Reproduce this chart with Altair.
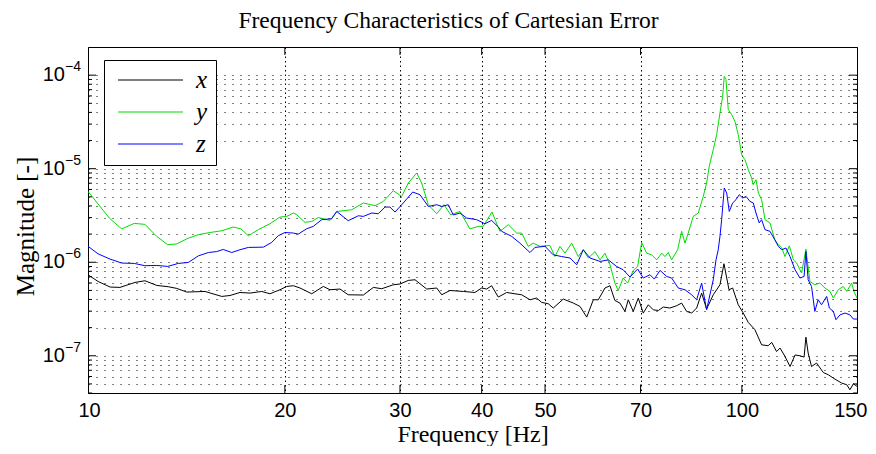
import altair as alt
import pandas as pd

# ---------------- data ----------------
series_names = ["x", "y", "z"]
series_colors = ["#000000", "#00dd00", "#0000ff"]

x_freq = [10.0, 10.36, 10.81, 11.19, 11.80, 12.22, 12.74, 13.27, 13.67, 14.16, 15.10, 16.02, 16.49, 17.08, 17.69,
          18.44, 18.98, 19.66, 20.13, 20.61, 21.10, 21.99, 22.90, 23.45, 24.29, 25.00, 26.37, 27.32, 28.13, 29.30,
          30.00, 30.89, 31.63, 32.96, 34.15, 34.75, 35.78, 37.50, 39.06, 40.00, 40.70, 41.43, 42.41, 43.68, 44.98,
          46.05, 47.42, 48.55, 49.41, 50.57, 51.47, 53.32, 55.24, 56.55, 57.91, 59.27, 60.32, 61.75, 62.85, 63.95,
          65.09, 66.25, 67.03, 68.22, 69.44, 70.66, 71.93, 73.21, 74.52, 75.84, 77.62, 79.48, 80.89, 82.33, 83.79,
          85.28, 86.79, 88.33, 90.42, 92.58, 93.89, 95.57, 96.81, 98.74, 100.5, 102.3, 104.7, 107.2, 109.7, 111.1,
          113.0, 114.4, 116.4, 118.5, 120.6, 122.7, 124.5, 125.3, 126.3, 127.8, 130.1, 133.2, 135.6, 138.8, 142.1,
          144.7, 146.3, 148.1, 150.0]
x_mag = [7.35e-7, 6.23e-7, 5.43e-7, 5.38e-7, 6.08e-7, 6.34e-7, 5.65e-7, 5.47e-7, 5.25e-7, 4.80e-7, 4.87e-7, 4.31e-7,
         4.41e-7, 4.75e-7, 4.68e-7, 4.87e-7, 4.60e-7, 5.08e-7, 5.51e-7, 5.61e-7, 5.30e-7, 4.60e-7, 5.51e-7, 5.08e-7,
         5.17e-7, 4.49e-7, 4.46e-7, 5.38e-7, 5.21e-7, 5.74e-7, 5.85e-7, 6.39e-7, 6.50e-7, 5.17e-7, 5.30e-7, 4.49e-7,
         4.99e-7, 4.87e-7, 4.75e-7, 5.30e-7, 5.17e-7, 5.61e-7, 4.24e-7, 4.75e-7, 4.60e-7, 4.49e-7, 3.97e-7, 4.14e-7,
         3.72e-7, 3.60e-7, 3.24e-7, 4.04e-7, 3.66e-7, 3.37e-7, 2.59e-7, 3.97e-7, 3.97e-7, 5.30e-7, 5.61e-7, 3.90e-7,
         3.66e-7, 2.98e-7, 3.97e-7, 2.98e-7, 4.14e-7, 2.86e-7, 3.51e-7, 3.10e-7, 3.05e-7, 3.32e-7, 3.24e-7, 3.43e-7,
         3.66e-7, 2.98e-7, 2.86e-7, 3.24e-7, 4.68e-7, 3.16e-7, 4.49e-7, 5.74e-7, 9.64e-7, 5.08e-7, 5.30e-7, 3.51e-7,
         2.86e-7, 2.27e-7, 1.90e-7, 1.31e-7, 1.28e-7, 1.39e-7, 1.11e-7, 1.21e-7, 9.83e-8, 7.68e-8, 1.02e-7, 1.00e-7,
         9.68e-8, 1.58e-7, 1.07e-7, 7.68e-8, 8.36e-8, 6.63e-8, 6.26e-8, 5.63e-8, 5.11e-8, 4.90e-8, 4.33e-8, 5.02e-8,
         4.70e-8]

y_freq = [10.0, 10.78, 11.26, 11.77, 12.22, 12.74, 13.24, 13.67, 14.24, 14.75, 15.37, 16.02, 16.68, 17.14, 17.59,
          18.22, 18.98, 19.66, 20.13, 20.61, 20.86, 21.47, 21.99, 22.50, 23.45, 24.01, 25.31, 26.37, 27.48, 28.29,
          29.30, 30.18, 30.89, 31.82, 32.38, 33.15, 34.15, 35.03, 35.87, 37.06, 38.38, 39.53, 40.22, 41.48, 42.66,
          43.93, 45.25, 46.05, 47.13, 47.97, 49.12, 50.87, 51.78, 52.70, 53.64, 54.92, 56.21, 57.21, 58.23, 59.62,
          60.68, 61.75, 62.85, 63.95, 64.70, 65.85, 66.89, 68.22, 69.28, 70.27, 71.51, 72.80, 74.09, 75.42, 76.29,
          77.17, 78.09, 79.76, 80.89, 81.85, 82.79, 84.27, 85.76, 87.29, 88.33, 89.15, 90.42, 91.51, 92.58, 93.46,
          93.99, 94.56, 95.33, 96.47, 97.59, 98.74, 99.93, 101.1, 102.3, 103.5, 104.1, 105.1, 106.0, 107.2, 108.5,
          110.4, 112.3, 113.7, 115.1, 116.4, 118.2, 119.9, 121.3, 123.4, 125.3, 127.1, 129.3, 131.6, 134.0, 136.4,
          138.0, 140.4, 142.9, 144.7, 147.2, 148.4, 150.0]
y_mag = [5.72e-6, 2.97e-6, 2.27e-6, 2.60e-6, 2.54e-6, 1.89e-6, 1.54e-6, 1.57e-6, 1.81e-6, 1.97e-6,
         2.08e-6, 2.17e-6, 2.38e-6, 2.27e-6, 1.92e-6, 2.23e-6, 2.58e-6, 3.04e-6, 3.09e-6, 3.36e-6,
         3.22e-6, 2.67e-6, 2.73e-6, 3.01e-6, 2.80e-6, 3.49e-6, 3.64e-6, 4.30e-6, 4.02e-6, 4.47e-6,
         5.82e-6, 5.05e-6, 7.03e-6, 9.00e-6, 7.03e-6, 4.12e-6, 3.30e-6, 4.12e-6, 3.22e-6, 3.49e-6,
         2.27e-6, 2.42e-6, 2.42e-6, 3.44e-6, 2.14e-6, 2.52e-6, 2.05e-6, 2.05e-6, 1.48e-6, 1.60e-6,
         1.48e-6, 1.51e-6, 1.15e-6, 1.48e-6, 1.25e-6, 1.60e-6, 1.15e-6, 1.36e-6, 1.11e-6, 1.30e-6,
         1.06e-6, 1.25e-6, 9.40e-7, 5.99e-7, 4.99e-7, 6.78e-7, 5.99e-7, 8.17e-7, 9.02e-7, 1.63e-6,
         1.25e-6, 1.20e-6, 1.06e-6, 1.25e-6, 1.15e-6, 1.27e-6, 1.06e-6, 1.36e-6, 2.14e-6, 1.60e-6,
         2.05e-6, 3.09e-6, 3.36e-6, 5.05e-6, 7.03e-6, 1.06e-5, 1.60e-5, 2.31e-5, 3.94e-5, 5.93e-5,
         9.71e-5, 8.95e-5, 4.28e-5, 3.78e-5, 3.21e-5, 2.31e-5, 1.41e-5, 1.25e-5, 9.76e-6, 7.95e-6,
         6.74e-6, 7.63e-6, 5.50e-6, 4.66e-6, 2.85e-6, 2.63e-6, 1.74e-6, 1.54e-6, 1.42e-6, 1.15e-6,
         1.50e-6, 1.06e-6, 9.80e-7, 7.66e-7, 1.38e-6, 6.23e-7, 5.74e-7, 5.99e-7, 5.30e-7, 4.87e-7,
         4.14e-7, 5.08e-7, 5.51e-7, 4.87e-7, 5.99e-7, 4.87e-7, 4.14e-7]

z_freq = [10.0, 10.36, 10.81, 11.26, 11.77, 12.22, 12.74, 13.24, 13.74, 14.24, 14.75, 15.28, 15.73, 16.10, 16.59,
          17.08, 17.59, 18.54, 19.10, 19.54, 20.01, 20.61, 20.97, 21.60, 22.11, 22.77, 23.59, 24.01, 25.00, 25.91,
          26.37, 27.16, 27.80, 28.46, 28.96, 29.48, 30.35, 31.38, 32.19, 33.15, 34.15, 34.75, 35.56, 36.20, 37.06,
          37.94, 39.30, 40.46, 41.43, 42.41, 42.92, 44.46, 45.77, 47.42, 48.26, 49.99, 51.47, 53.02, 54.59, 55.90,
          57.21, 58.58, 60.68, 62.48, 64.33, 65.85, 67.43, 69.28, 70.66, 72.36, 73.46, 74.97, 76.74, 78.09, 79.93,
          81.85, 83.79, 85.28, 86.79, 88.33, 90.42, 91.3, 92.02, 92.58, 93.13, 93.99, 94.80, 95.66, 96.81, 97.95,
          99.08, 100.3, 101.5, 102.9, 104.1, 105.1, 106.3, 107.2, 108.5, 110.4, 112.3, 113.7, 115.1, 116.8, 118.5,
          120.6, 122.7, 124.5, 125.3, 126.3, 127.8, 129.3, 130.8, 132.4, 134.8, 136.1, 138.0, 139.3, 141.3, 143.8,
          146.3, 148.1, 150.0]
z_mag = [1.48e-6, 1.23e-6, 1.08e-6, 9.80e-7, 9.71e-7, 9.18e-7, 9.24e-7, 9.02e-7, 9.71e-7, 9.95e-7,
         1.17e-6, 1.27e-6, 1.30e-6, 1.37e-6, 1.27e-6, 1.36e-6, 1.44e-6, 1.45e-6, 1.63e-6, 1.92e-6,
         2.08e-6, 2.05e-6, 2.00e-6, 2.28e-6, 2.42e-6, 2.85e-6, 2.92e-6, 3.49e-6, 2.78e-6, 3.14e-6,
         3.09e-6, 3.36e-6, 3.30e-6, 3.89e-6, 3.89e-6, 3.44e-6, 4.30e-6, 5.63e-6, 5.27e-6, 3.95e-6,
         4.12e-6, 3.95e-6, 4.12e-6, 3.20e-6, 3.36e-6, 2.97e-6, 2.85e-6, 2.58e-6, 2.80e-6, 2.38e-6,
         2.14e-6, 1.89e-6, 1.60e-6, 1.27e-6, 1.44e-6, 1.48e-6, 1.20e-6, 1.15e-6, 1.11e-6, 9.40e-7,
         1.36e-6, 1.11e-6, 1.02e-6, 1.06e-6, 9.02e-7, 8.31e-7, 6.95e-7, 8.46e-7, 6.78e-7, 7.35e-7,
         6.61e-7, 8.17e-7, 7.05e-7, 6.78e-7, 5.30e-7, 5.08e-7, 4.49e-7, 3.97e-7, 5.99e-7, 3.10e-7,
         6.50e-7, 1.06e-6, 1.36e-6, 1.89e-6, 2.85e-6, 6.22e-6, 5.50e-6, 3.49e-6, 4.30e-6, 4.66e-6,
         5.27e-6, 4.86e-6, 5.05e-6, 4.47e-6, 4.30e-6, 3.36e-6, 2.63e-6, 2.85e-6, 2.23e-6, 2.14e-6,
         1.74e-6, 1.48e-6, 1.36e-6, 1.42e-6, 1.15e-6, 8.31e-7, 6.78e-7, 7.05e-7, 1.30e-6, 6.50e-7,
         5.51e-7, 2.98e-7, 3.97e-7, 3.51e-7, 4.31e-7, 3.24e-7, 2.98e-7, 2.43e-7, 2.74e-7, 2.86e-7,
         2.74e-7, 2.47e-7, 2.47e-7]

# axes: ticks and labels
x_ticks = [10, 20, 30, 40, 50, 70, 100, 150]
y_domain = [4e-8, 2e-4]
y_decades = [1e-7, 1e-6, 1e-5, 1e-4]
y_decade_base = ["10", "10", "10", "10"]
y_decade_exp = ["\u22127", "\u22126", "\u22125", "\u22124"]
y_minor = [4e-8, 5e-8, 6e-8, 7e-8, 8e-8, 9e-8,
           2e-7, 3e-7, 4e-7, 5e-7, 6e-7, 7e-7, 8e-7, 9e-7,
           2e-6, 3e-6, 4e-6, 5e-6, 6e-6, 7e-6, 8e-6, 9e-6,
           2e-5, 3e-5, 4e-5, 5e-5, 6e-5, 7e-5, 8e-5, 9e-5]

# ---------------- build tables ----------------
rows = []
for name, fs, ms in zip(series_names, [x_freq, y_freq, z_freq], [x_mag, y_mag, z_mag]):
    for f, m in zip(fs, ms):
        rows.append({"series": name, "freq": f, "mag": m})
df = pd.DataFrame(rows)

W, H = 769, 346
SERIF = "Liberation Serif"
SANS = "Liberation Sans"

xs = alt.Scale(type="log", domain=[10, 150], nice=False)
ys = alt.Scale(type="log", domain=y_domain, nice=False)

x_axis = alt.Axis(
    values=x_ticks, format="d", labelFont=SANS, labelFontSize=20, labelColor="black",
    labelPadding=7, labelFlush=True, labelFlushOffset=10, labelOverlap=False, ticks=False,
    domain=False, grid=True, gridColor="black", gridDash=[1.5, 3], gridWidth=1, gridOpacity=1,
    title="Frequency [Hz]", titleFont=SERIF, titleFontSize=24, titleFontWeight="normal",
    titleColor="black", titleBaseline="alphabetic", titleY=48)
y_axis = alt.Axis(
    values=y_decades + y_minor, labels=False, ticks=False, domain=False,
    grid=True, gridColor="black", gridDash=[1, 7], gridWidth=1, gridOpacity=1,
    title="Magnitude [-]", titleFont=SERIF, titleFontSize=25, titleFontWeight="normal",
    titleColor="black", titlePadding=50, titleY=179)

lines = alt.Chart(df).mark_line(strokeWidth=1, clip=True).encode(
    x=alt.X("freq:Q", scale=xs, axis=x_axis),
    y=alt.Y("mag:Q", scale=ys, axis=y_axis),
    color=alt.Color("series:N", scale=alt.Scale(domain=series_names, range=series_colors),
                    legend=alt.Legend(title=None, orient="none", legendX=16, legendY=13,
                                      direction="vertical", symbolType="stroke", symbolSize=4225,
                                      symbolStrokeWidth=1.2, symbolOffset=5, labelFont=SERIF,
                                      labelFontStyle="italic", labelFontSize=25, labelColor="black",
                                      labelOffset=12, fillColor="white", strokeColor="black",
                                      padding=8, rowPadding=7, clipHeight=24)),
)

ymaj = pd.DataFrame({"mag": y_decades, "base": y_decade_base, "exp": y_decade_exp})
ymin = pd.DataFrame({"mag": y_minor})
xtk = pd.DataFrame({"freq": x_ticks[1:-1]})


def yrule(d, x0, x1):
    return alt.Chart(d).mark_rule(color="black", strokeWidth=1).encode(
        y=alt.Y("mag:Q", scale=ys, axis=y_axis), x=alt.value(x0), x2=alt.value(x1))


def xrule(d, y0, y1):
    return alt.Chart(d).mark_rule(color="black", strokeWidth=1).encode(
        x=alt.X("freq:Q", scale=xs, axis=x_axis), y=alt.value(y0), y2=alt.value(y1))


ticks = [yrule(ymaj, 0, 8), yrule(ymaj, W - 8, W), yrule(ymin, 0, 4), yrule(ymin, W - 4, W),
         xrule(xtk, H - 8, H), xrule(xtk, 0, 8)]

base_lab = alt.Chart(ymaj).mark_text(align="right", baseline="middle", font=SANS, fontSize=20,
                                     color="black").encode(
    y=alt.Y("mag:Q", scale=ys, axis=y_axis), x=alt.value(-23), text="base:N")
exp_lab = alt.Chart(ymaj).mark_text(align="left", baseline="middle", font=SANS, fontSize=14,
                                    color="black", dy=-8).encode(
    y=alt.Y("mag:Q", scale=ys, axis=y_axis), x=alt.value(-23), text="exp:N")

chart = alt.layer(lines, *ticks, base_lab, exp_lab).properties(
    width=W, height=H,
    title=alt.TitleParams("Frequency Characteristics of Cartesian Error", font=SERIF, fontSize=23.5,
                          fontWeight="normal", color="black", anchor="middle", baseline="bottom",
                          frame="group", offset=17, dy=27, dx=-24),
    padding={"left": 80, "top": 39, "right": 11, "bottom": 53},
    autosize=alt.AutoSizeParams(type="none"),
).configure_view(stroke="black", strokeWidth=1)

chart.save("out.html", embed_options={"renderer": "svg", "actions": False})
